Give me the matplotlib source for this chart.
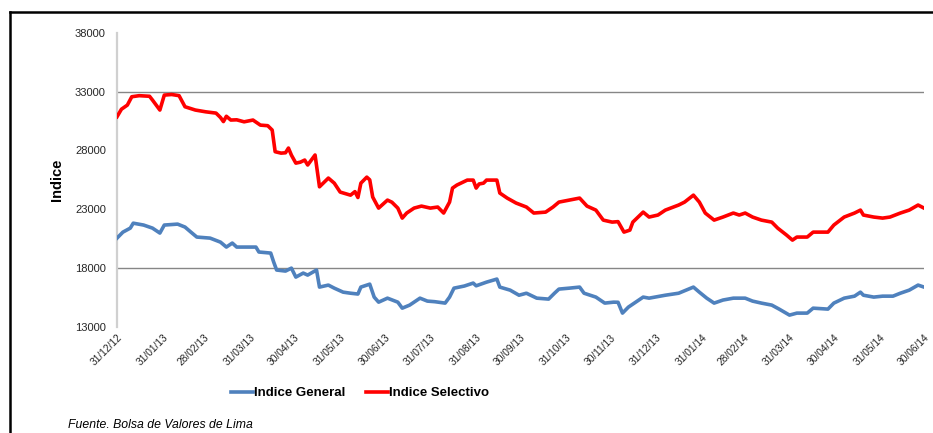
import matplotlib
matplotlib.use("Agg")
import matplotlib.pyplot as plt
from matplotlib.lines import Line2D
import pandas as pd

# ---------------- data ----------------
sel_dates = ["2012-12-31","2013-01-03","2013-01-07","2013-01-10","2013-01-15","2013-01-22","2013-01-24",
             "2013-01-29","2013-02-01","2013-02-06","2013-02-11","2013-02-15","2013-02-22","2013-03-01",
             "2013-03-08","2013-03-11","2013-03-13","2013-03-15","2013-03-18","2013-03-22","2013-03-27",
             "2013-04-02","2013-04-07","2013-04-12","2013-04-15","2013-04-17","2013-04-21","2013-04-24",
             "2013-04-26","2013-04-28","2013-05-01","2013-05-04","2013-05-07","2013-05-09","2013-05-14",
             "2013-05-17","2013-05-23","2013-05-27","2013-05-31","2013-06-07","2013-06-10","2013-06-12",
             "2013-06-14","2013-06-18","2013-06-20","2013-06-22","2013-06-26","2013-07-02","2013-07-05",
             "2013-07-09","2013-07-12","2013-07-15","2013-07-20","2013-07-25","2013-07-31","2013-08-05",
             "2013-08-09","2013-08-13","2013-08-15","2013-08-18","2013-08-25","2013-08-29","2013-08-31",
             "2013-09-02","2013-09-05","2013-09-07","2013-09-14","2013-09-16","2013-09-21","2013-09-27",
             "2013-10-04","2013-10-09","2013-10-17","2013-10-22","2013-10-26","2013-11-02","2013-11-09",
             "2013-11-14","2013-11-20","2013-11-25","2013-12-01","2013-12-05","2013-12-09","2013-12-13",
             "2013-12-15","2013-12-22","2013-12-26","2014-01-01","2014-01-06","2014-01-15","2014-01-19",
             "2014-01-25","2014-01-29","2014-02-02","2014-02-08","2014-02-14","2014-02-21","2014-02-25",
             "2014-03-01","2014-03-06","2014-03-12","2014-03-19","2014-03-23","2014-03-29","2014-04-02",
             "2014-04-05","2014-04-12","2014-04-16","2014-04-26","2014-04-30","2014-05-07","2014-05-14",
             "2014-05-18","2014-05-20","2014-05-27","2014-06-02","2014-06-07","2014-06-14","2014-06-20",
             "2014-06-26","2014-06-30"]
sel_values = [30860,31500,31850,32560,32650,32600,32280,
              31430,32700,32750,32650,31710,31430,31280,
              31170,30800,30450,30900,30580,30600,30430,
              30580,30150,30100,29730,27890,27770,27800,
              28200,27600,26920,27000,27180,26760,27610,
              24910,25650,25220,24460,24200,24500,24000,
              25220,25730,25500,24040,23100,23780,23600,
              23100,22250,22680,23100,23270,23100,23190,
              22680,23610,24800,25060,25480,25480,24800,
              25150,25220,25480,25480,24380,23950,23530,
              23190,22680,22760,23190,23610,23780,23950,
              23270,22930,22080,21910,21950,21060,21230,
              21910,22760,22340,22510,22930,23360,23610,
              24200,23610,22680,22080,22340,22680,22510,
              22680,22340,22080,21910,21400,20810,20380,
              20640,20640,21060,21060,21660,22340,22680,
              22930,22510,22340,22250,22340,22680,22930,
              23360,23100]

gen_dates = ["2012-12-31","2013-01-04","2013-01-09","2013-01-11","2013-01-18","2013-01-24","2013-01-29",
             "2013-02-01","2013-02-10","2013-02-15","2013-02-19","2013-02-23","2013-03-04","2013-03-11",
             "2013-03-15","2013-03-19","2013-03-22","2013-03-31","2013-04-04","2013-04-06","2013-04-14",
             "2013-04-16","2013-04-18","2013-04-24","2013-04-28","2013-05-01","2013-05-06","2013-05-09",
             "2013-05-15","2013-05-17","2013-05-23","2013-05-27","2013-06-02","2013-06-07","2013-06-12",
             "2013-06-14","2013-06-20","2013-06-23","2013-06-26","2013-07-02","2013-07-09","2013-07-12",
             "2013-07-17","2013-07-24","2013-07-29","2013-08-03","2013-08-10","2013-08-13","2013-08-16",
             "2013-08-23","2013-08-29","2013-08-31","2013-09-07","2013-09-14","2013-09-16","2013-09-23",
             "2013-09-29","2013-10-04","2013-10-11","2013-10-19","2013-10-23","2013-10-26","2013-11-02",
             "2013-11-09","2013-11-12","2013-11-20","2013-11-26","2013-12-02","2013-12-05","2013-12-08",
             "2013-12-12","2013-12-22","2013-12-26","2014-01-06","2014-01-15","2014-01-20","2014-01-25",
             "2014-01-29","2014-02-03","2014-02-08","2014-02-14","2014-02-21","2014-03-01","2014-03-06",
             "2014-03-12","2014-03-19","2014-03-24","2014-03-31","2014-04-05","2014-04-12","2014-04-16",
             "2014-04-26","2014-04-30","2014-05-07","2014-05-14","2014-05-18","2014-05-20","2014-05-27",
             "2014-06-02","2014-06-09","2014-06-14","2014-06-20","2014-06-26","2014-06-30"]
gen_values = [20550,21060,21400,21820,21660,21400,20980,
              21660,21740,21490,21060,20640,20550,20210,
              19790,20130,19790,19790,19790,19370,19280,
              18520,17840,17750,18000,17240,17580,17410,
              17840,16390,16560,16300,15960,15870,15800,
              16390,16640,15540,15110,15450,15110,14600,
              14860,15450,15200,15150,15030,15540,16300,
              16480,16730,16500,16810,17070,16390,16130,
              15700,15870,15450,15370,15870,16220,16300,
              16390,15870,15540,15030,15110,15100,14180,
              14690,15540,15450,15700,15870,16130,16390,
              15960,15450,15030,15290,15450,15450,15200,
              15030,14860,14520,14010,14180,14180,14600,
              14520,15030,15450,15620,15960,15700,15540,
              15620,15620,15870,16130,16560,16390]

tick_dates = ["2012-12-31","2013-01-31","2013-02-28","2013-03-31","2013-04-30","2013-05-31",
              "2013-06-30","2013-07-31","2013-08-31","2013-09-30","2013-10-31","2013-11-30",
              "2013-12-31","2014-01-31","2014-02-28","2014-03-31","2014-04-30","2014-05-31",
              "2014-06-30"]
y_ticks = [13000, 18000, 23000, 28000, 33000, 38000]
grid_values = [18000, 33000]

series_names = ["Indice General", "Indice Selectivo"]
y_label = "Indice"
source = "Fuente. Bolsa de Valores de Lima"

# ---------------- figure ----------------
W, H = 933, 433
fig = plt.figure(figsize=(W / 100, H / 100), dpi=100)
fig.patch.set_facecolor("white")

def fx(px):
    return px / W

def fy(py):
    return 1 - py / H

ax = fig.add_axes([fx(117), fy(327), fx(924) - fx(117), fy(32.7) - fy(327)])

sd = pd.to_datetime(sel_dates)
gd = pd.to_datetime(gen_dates)
td = pd.to_datetime(tick_dates)

blue = "#4f81bd"
red = "#ff0000"

for gv in grid_values:
    ax.axhline(gv, color="#868686", lw=1.0, zorder=1)

lg, = ax.plot(gd, gen_values, color=blue, lw=2.6, solid_joinstyle="round", zorder=3)
ls, = ax.plot(sd, sel_values, color=red, lw=2.6, solid_joinstyle="round", zorder=3)

ax.set_xlim(td[0], td[-1])
ax.set_ylim(13000, 38000)
ax.set_yticks(y_ticks)
ax.set_yticklabels([str(v) for v in y_ticks], fontsize=8, color="#262626",
                   family="Liberation Sans")
ax.set_xticks(td)
ax.set_xticklabels([d.strftime("%d/%m/%y") for d in td], rotation=45, ha="right",
                   va="top", rotation_mode="anchor", fontsize=7.3, color="#262626",
                   family="Liberation Sans")
ax.tick_params(axis="both", length=0)
ax.tick_params(axis="y", pad=8)
ax.tick_params(axis="x", pad=4)

for s in ["top", "right", "bottom"]:
    ax.spines[s].set_visible(False)
ax.spines["left"].set_color("#d0d0d0")
ax.spines["left"].set_linewidth(1.6)

fig.text(fx(57), fy(180), y_label, rotation=90, ha="center", va="center",
         fontsize=10.5, fontweight="bold", family="Liberation Sans", color="black")

leg = fig.legend([lg, ls], series_names, loc="center", bbox_to_anchor=(fx(360), fy(393)),
                 ncol=2, frameon=False, handlelength=1.7, handletextpad=0.1,
                 columnspacing=1.5, prop={"family": "Liberation Sans", "weight": "bold",
                                           "size": 9.5})

fig.text(fx(68), fy(425), source, ha="left", va="center", fontsize=8.8,
         style="italic", family="Liberation Sans", color="black")

# outer frame (top and left edges visible)
fig.add_artist(Line2D([fx(10), 1.0], [fy(12), fy(12)], color="black", lw=1.8,
                      transform=fig.transFigure))
fig.add_artist(Line2D([fx(10), fx(10)], [fy(12), 0.0], color="black", lw=1.8,
                      transform=fig.transFigure))

fig.savefig("out.png", dpi=100, facecolor="white")
